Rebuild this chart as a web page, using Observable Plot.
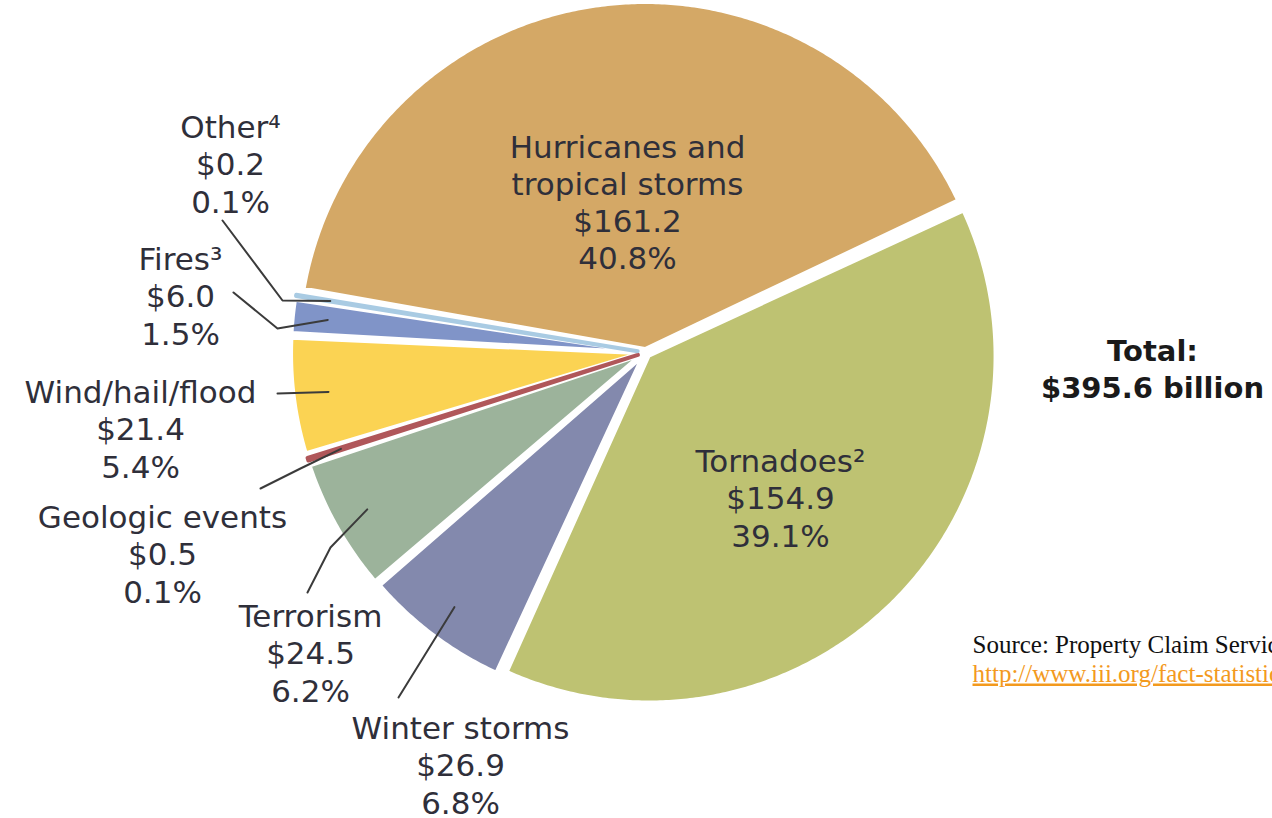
<!DOCTYPE html>
<html><head><meta charset="utf-8">
<script src="https://cdn.jsdelivr.net/npm/d3@7"></script>
<script src="https://cdn.jsdelivr.net/npm/@observablehq/plot@0.6"></script>
<style>
html,body{margin:0;padding:0;background:#fff;overflow:hidden}
#chart{width:1272px;height:818px}
.link text{text-decoration:underline}
</style></head><body><div id="chart"></div>
<script>
// ---- data ----
const categories = ["Hurricanes and tropical storms", "Tornadoes", "Winter storms", "Terrorism", "Geologic events", "Wind/hail/flood", "Fires", "Other"];
const labelNames = ["Hurricanes and\ntropical storms", "Tornadoes²", "Winter storms", "Terrorism", "Geologic events", "Wind/hail/flood", "Fires³", "Other⁴"];
const values = [161.2, 154.9, 26.9, 24.5, 0.5, 21.4, 6.0, 0.2];
const percentLabels = ["40.8%", "39.1%", "6.8%", "6.2%", "0.1%", "5.4%", "1.5%", "0.1%"];
const totalLabel = ["Total:", "$395.6 billion"];
const sourceLines = ["Source: Property Claim Services (PCS®), a Verisk Analytics® business", "http://www.iii.org/fact-statistic/catastrophes-us"];

// ---- style / layout ----
const colors = ["#D4A866", "#BEC272", "#8389AD", "#9CB39B", "#B0575A", "#FBD353", "#8094C8", "#A9CBE3"];
const W = 1272, H = 818, cx = 645, cy = 352, R = 346;
const deg = Math.PI / 180;
const explode = [4, 5, 7, 8, 8, 8, 8, 8];
const labelPos = [[627, 201], [780, 497], [460, 764], [310, 652], [162, 553], [140, 428], [180, 295], [230, 163]];
const leaderPts = [null, null, [[398, 697]], [[307, 592], [330, 547]], [[260, 488], [300, 468]], [[277, 393]], [[233, 292], [277, 328]], [[222, 220], [282, 300]]];

const pie = d3.pie().sort(null).value(d => d)
  .startAngle(279.7 * deg).endAngle(279.7 * deg + 2 * Math.PI).padAngle(0.65 * deg);
const arcs = pie(values);

const polyRows = [];
const leaderRows = [];
arcs.forEach((a, i) => {
  const a0 = a.startAngle + a.padAngle / 2, a1 = a.endAngle - a.padAngle / 2;
  const mid = (a0 + a1) / 2;
  const ox = cx + explode[i] * Math.sin(mid), oy = cy - explode[i] * Math.cos(mid);
  const pts = [[ox, oy]];
  const n = Math.max(2, Math.ceil((a1 - a0) / (0.5 * deg)));
  for (let k = 0; k <= n; k++) {
    const t = a0 + (a1 - a0) * k / n;
    pts.push([ox + R * Math.sin(t), oy - R * Math.cos(t)]);
  }
  pts.push([ox, oy]);
  pts.forEach(([x, y], j) => polyRows.push({cat: categories[i], value: values[i], x, y, j}));
  if (leaderPts[i]) {
    leaderPts[i].forEach(([x, y]) => leaderRows.push({id: i, x, y}));
    const rr = 0.9 * R;
    leaderRows.push({id: i, x: ox + rr * Math.sin(mid), y: oy - rr * Math.cos(mid)});
  }
});

const labelRows = categories.map((c, i) => ({
  cat: c,
  x: labelPos[i][0], y: labelPos[i][1],
  text: `${labelNames[i]}\n$${values[i].toFixed(1)}\n${percentLabels[i]}`
}));

const chart = Plot.plot({
  width: W, height: H, margin: 0,
  x: {domain: [0, W], range: [0, W], axis: null},
  y: {domain: [0, H], range: [0, H], axis: null},
  color: {domain: categories, range: colors},
  style: {fontFamily: "DejaVu Sans", background: "white"},
  marks: [
    Plot.line(polyRows, {x: "x", y: "y", z: "cat", fill: "cat", stroke: "white", strokeWidth: 3, strokeLinejoin: "round"}),
    Plot.line(polyRows.filter(d => d.value < 1), {x: "x", y: "y", z: "cat", fill: "cat", stroke: "cat", strokeWidth: 4, strokeLinejoin: "round"}),
    Plot.line(leaderRows, {x: "x", y: "y", z: "id", stroke: "#3b3b3b", strokeWidth: 2}),
    Plot.text(labelRows, {x: "x", y: "y", text: "text", fontSize: 31, lineHeight: 1.2, fill: "#2f2f3a"}),
    Plot.text([totalLabel.join("\n")], {x: 1152, y: 367, text: d => d, fontSize: 29, fontWeight: "bold", lineHeight: 1.3, fill: "#1a1a1a"}),
    Plot.text([sourceLines[0]], {x: 972, y: 652, text: d => d, textAnchor: "start", lineAnchor: "bottom", fontSize: 25, fontFamily: "Liberation Serif", fill: "#111"}),
    Plot.text([sourceLines[1]], {x: 972, y: 681, text: d => d, textAnchor: "start", lineAnchor: "bottom", fontSize: 25, fontFamily: "Liberation Serif", fill: "#F39A1E", className: "link"})
  ]
});
document.getElementById("chart").append(chart);
</script></body></html>
